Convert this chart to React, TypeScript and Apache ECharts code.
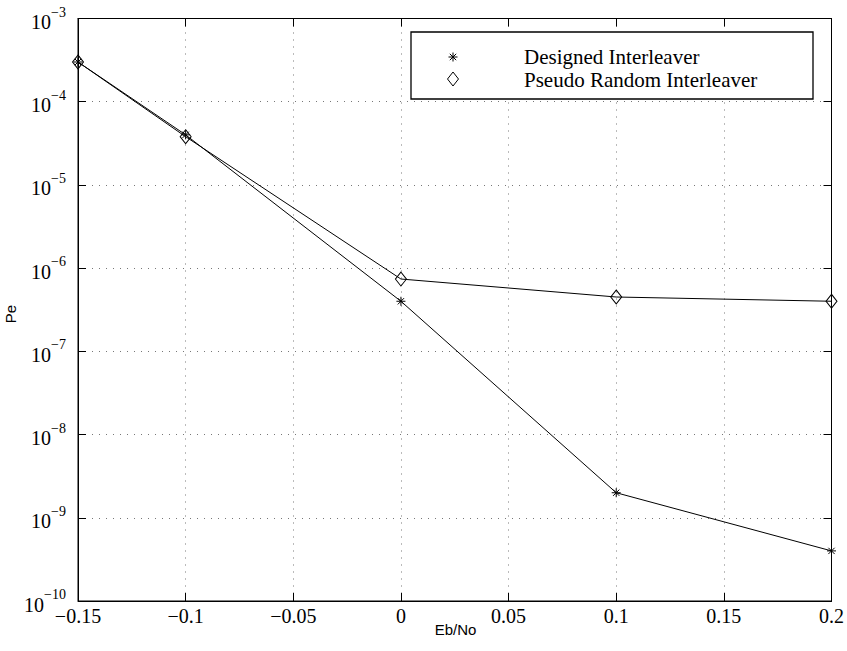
import React, { useEffect, useRef } from "react";
import * as echarts from "echarts";

const xValues = [-0.15, -0.1, 0, 0.1, 0.2];
const designed = [3e-4, 4e-5, 4e-7, 2e-9, 4e-10];
const pseudoRandom = [3e-4, 3.8e-5, 7.4e-7, 4.5e-7, 4e-7];
const seriesNames = ["Designed Interleaver", "Pseudo Random Interleaver"];
const xName = "Eb/No";
const yName = "Pe";

const SERIF = "'Liberation Serif', 'Times New Roman', serif";
const SANS = "'Liberation Sans', Arial, sans-serif";
const STAR = "path://M0,-1L0,1M-1,0L1,0M-0.7,-0.7L0.7,0.7M-0.7,0.7L0.7,-0.7";

function fmtX(v: number) {
  const r = Math.round(v * 100) / 100;
  const s = String(Math.abs(r));
  return r < 0 ? "\u2212" + s : s;
}
function fmtY(v: number) {
  const e = Math.round(Math.log10(v));
  return "{b|10}{s|" + (e < 0 ? "\u2212" + Math.abs(e) : String(e)) + "}";
}

export default function App() {
  const ref = useRef<HTMLDivElement>(null);
  useEffect(() => {
    if (!ref.current) return;
    const chart = echarts.init(ref.current, undefined, { renderer: "svg" });
    const gridLine = { show: true, lineStyle: { color: "#777", width: 1, type: [1, 6] as any } };
    const L = 78, T = 18.5, R = 833, B = 601;
    const sx = 453, sy = 57;
    const starLine = (x1: number, y1: number, x2: number, y2: number) => ({
      type: "line", z: 11,
      shape: { x1: sx + x1, y1: sy + y1, x2: sx + x2, y2: sy + y2 },
      style: { stroke: "#000", lineWidth: 1 },
    });
    chart.setOption({
      animation: false,
      backgroundColor: "#fff",
      grid: { left: L, top: T, right: 847 - R, bottom: 651 - B, show: true, borderColor: "#000", borderWidth: 1 },
      xAxis: [
        {
          type: "value", min: -0.15, max: 0.2, interval: 0.05,
          axisLine: { show: true, onZero: false, lineStyle: { color: "#000" } },
          axisTick: { show: true, inside: true, length: 8, lineStyle: { color: "#000" } },
          axisLabel: { formatter: fmtX, color: "#000", fontFamily: SERIF, fontSize: 20, margin: 5 },
          splitLine: gridLine,
        },
        {
          type: "value", position: "top", min: -0.15, max: 0.2, interval: 0.05,
          axisLine: { show: true, onZero: false, lineStyle: { color: "#000" } },
          axisTick: { show: true, inside: true, length: 8, lineStyle: { color: "#000" } },
          axisLabel: { show: false }, splitLine: { show: false },
        },
      ],
      yAxis: [
        {
          type: "log", logBase: 10, min: 1e-10, max: 1e-3,
          axisLine: { show: true, onZero: false, lineStyle: { color: "#000" } },
          axisTick: { show: true, inside: true, length: 8, lineStyle: { color: "#000" } },
          minorTick: { show: false },
          axisLabel: {
            formatter: fmtY, margin: 12,
            rich: {
              b: { fontFamily: SERIF, fontSize: 20, color: "#000", padding: [7, 0, 0, 0] },
              s: { fontFamily: SERIF, fontSize: 14, color: "#000", verticalAlign: "top", padding: [0, 0, 7, 0] },
            },
          },
          splitLine: gridLine,
        },
        {
          type: "log", logBase: 10, min: 1e-10, max: 1e-3, position: "right",
          axisLine: { show: true, onZero: false, lineStyle: { color: "#000" } },
          axisTick: { show: true, inside: true, length: 8, lineStyle: { color: "#000" } },
          axisLabel: { show: false }, splitLine: { show: false },
        },
      ],
      series: [
        {
          name: seriesNames[0], type: "line",
          data: xValues.map((x, i) => [x, designed[i]]),
          symbol: STAR, symbolSize: 9, showAllSymbol: true,
          lineStyle: { color: "#000", width: 1 },
          itemStyle: { color: "none", borderColor: "#000", borderWidth: 1 },
          z: 3,
        },
        {
          name: seriesNames[1], type: "line",
          data: xValues.map((x, i) => [x, pseudoRandom[i]]),
          symbol: "diamond", symbolSize: [11, 14], showAllSymbol: true,
          lineStyle: { color: "#000", width: 1 },
          itemStyle: { color: "rgba(255,255,255,0)", borderColor: "#000", borderWidth: 1 },
          z: 3,
        },
      ],
      graphic: [
        {
          type: "text", x: (L + R) / 2, y: 629,
          style: { text: xName, font: "15px " + SANS, fill: "#000", align: "center", verticalAlign: "middle" },
        },
        {
          type: "text", x: 10, y: 314, rotation: Math.PI / 2,
          style: { text: yName, font: "15px " + SANS, fill: "#000", align: "center", verticalAlign: "middle" },
        },
        {
          type: "rect", shape: { x: 411, y: 32, width: 402, height: 67 },
          style: { fill: "#fff", stroke: "#000", lineWidth: 1.3 }, z: 10,
        },
        starLine(0, -4.5, 0, 4.5),
        starLine(-4.5, 0, 4.5, 0),
        starLine(-3.2, -3.2, 3.2, 3.2),
        starLine(-3.2, 3.2, 3.2, -3.2),
        {
          type: "polygon", z: 11,
          shape: { points: [[453, 72], [458.5, 79], [453, 86], [447.5, 79]] },
          style: { fill: "none", stroke: "#000", lineWidth: 1 },
        },
        {
          type: "text", x: 524, y: 56.5, z: 11,
          style: { text: seriesNames[0], font: "21px " + SERIF, fill: "#000", verticalAlign: "middle" },
        },
        {
          type: "text", x: 524, y: 79.5, z: 11,
          style: { text: seriesNames[1], font: "21px " + SERIF, fill: "#000", verticalAlign: "middle" },
        },
      ],
    });
    return () => chart.dispose();
  }, []);
  return <div ref={ref} style={{ width: 847, height: 651, position: "absolute", left: 0, top: 0 }} />;
}
